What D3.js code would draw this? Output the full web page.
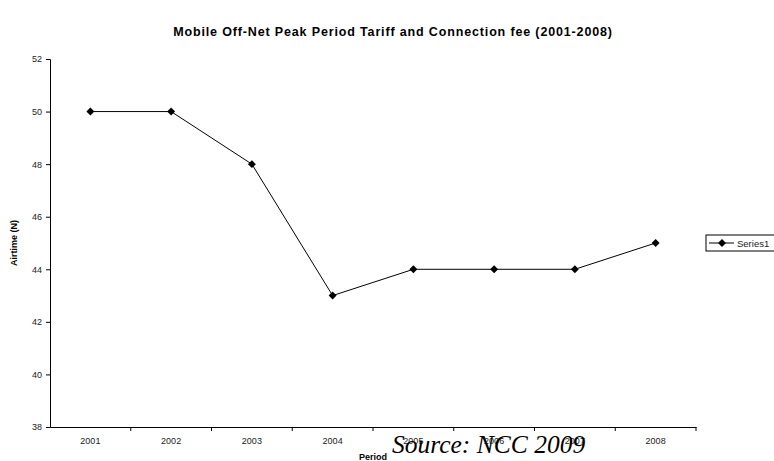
<!DOCTYPE html>
<html>
<head>
<meta charset="utf-8">
<script src="https://cdn.jsdelivr.net/npm/d3@7/dist/d3.min.js"></script>
<style>
  body { margin: 0; background: #fff; }
  svg { display: block; font-family: Arial, "Liberation Sans", sans-serif; }
</style>
</head>
<body>
<div id="container"></div>
<script>
/* DATA */
const years = ["2001", "2002", "2003", "2004", "2005", "2006", "2007", "2008"];
const airtime = [50, 50, 48, 43, 44, 44, 44, 45];
const yTicks = [38, 40, 42, 44, 46, 48, 50, 52];

/* CONSTANTS */
const width = 774, height = 461,
  margin = { top: 59, bottom: 34, left: 50, right: 78 };

const data = years.map((y, i) => ({ year: y, value: airtime[i] }));

/* SCALES */
const xScale = d3.scaleBand()
  .domain(years)
  .range([margin.left, width - margin.right]);

const yScale = d3.scaleLinear()
  .domain([38, 52])
  .range([height - margin.bottom, margin.top]);

const svg = d3.select("#container")
  .append("svg")
  .attr("width", width)
  .attr("height", height);

// title
svg.append("text")
  .attr("x", 393)
  .attr("y", 36)
  .attr("text-anchor", "middle")
  .attr("font-size", 12.5)
  .attr("letter-spacing", 0.85)
  .attr("font-weight", "bold")
  .text("Mobile Off-Net Peak Period Tariff and Connection fee (2001-2008)");

// x axis
const xAxis = d3.axisBottom(xScale).tickSize(0).tickPadding(11);
const gx = svg.append("g")
  .attr("transform", `translate(0,${height - margin.bottom})`)
  .call(xAxis);
gx.select(".domain").attr("stroke", "#000").attr("stroke-width", 1);
gx.selectAll("text").attr("font-size", 9).attr("fill", "#222")
  .attr("font-family", "Arial, 'Liberation Sans', sans-serif");
// category separator ticks
gx.selectAll(".sep")
  .data(years)
  .join("line")
  .attr("class", "sep")
  .attr("x1", d => xScale(d) + xScale.bandwidth())
  .attr("x2", d => xScale(d) + xScale.bandwidth())
  .attr("y1", 0)
  .attr("y2", 4)
  .attr("stroke", "#000");

// y axis
const yAxis = d3.axisLeft(yScale).tickValues(yTicks).tickSize(4).tickPadding(4);
const gy = svg.append("g")
  .attr("transform", `translate(${margin.left},0)`)
  .call(yAxis);
gy.select(".domain").attr("stroke", "#000");
gy.selectAll("text").attr("font-size", 9).attr("fill", "#222")
  .attr("font-family", "Arial, 'Liberation Sans', sans-serif");

// axis titles
svg.append("text")
  .attr("transform", `translate(17,${(margin.top + height - margin.bottom) / 2}) rotate(-90)`)
  .attr("text-anchor", "middle")
  .attr("font-size", 9)
  .attr("font-weight", "bold")
  .text("Airtime (N)");

svg.append("text")
  .attr("x", (margin.left + width - margin.right) / 2)
  .attr("y", 460)
  .attr("text-anchor", "middle")
  .attr("font-size", 9)
  .attr("font-weight", "bold")
  .text("Period");

// line
const line = d3.line()
  .x(d => xScale(d.year) + xScale.bandwidth() / 2)
  .y(d => yScale(d.value));

svg.append("path")
  .datum(data)
  .attr("d", line)
  .attr("fill", "none")
  .attr("stroke", "#000")
  .attr("stroke-width", 1);

// diamonds
const diamond = d3.symbol().type(d3.symbolDiamond2).size(40);
svg.selectAll(".pt")
  .data(data)
  .join("path")
  .attr("class", "pt")
  .attr("d", diamond)
  .attr("transform", d => `translate(${xScale(d.year) + xScale.bandwidth() / 2},${yScale(d.value)})`)
  .attr("fill", "#000");

// legend
const lg = svg.append("g").attr("transform", "translate(706,235)");
lg.append("rect")
  .attr("width", 80).attr("height", 16)
  .attr("fill", "#fff").attr("stroke", "#000");
lg.append("line")
  .attr("x1", 3).attr("x2", 28).attr("y1", 8).attr("y2", 8)
  .attr("stroke", "#000");
lg.append("path")
  .attr("d", diamond)
  .attr("transform", "translate(16,8)")
  .attr("fill", "#000");
lg.append("text")
  .attr("x", 31).attr("y", 11.5)
  .attr("font-size", 9.5)
  .attr("fill", "#222")
  .text("Series1");

// source note
svg.append("text")
  .attr("x", 392)
  .attr("y", 453)
  .attr("font-family", "'Liberation Serif', 'Times New Roman', serif")
  .attr("font-style", "italic")
  .attr("font-size", 25.5)
  .attr("fill", "#000")
  .text("Source: NCC 2009");
</script>
</body>
</html>
